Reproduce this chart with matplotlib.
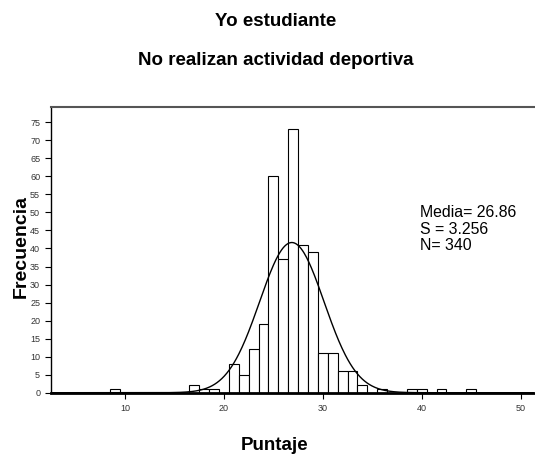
import numpy as np
import matplotlib
matplotlib.use("Agg")
import matplotlib.pyplot as plt

plt.rcParams['font.family'] = ['Liberation Sans', 'DejaVu Sans']

# Puntaje values (bin centres) and their frequencies
puntaje = [9, 17, 18, 19, 21, 22, 23, 24, 25, 26, 27, 28, 29, 30, 31, 32, 33, 34, 36, 39, 40, 42, 45]
frecuencia = [1, 2, 1, 1, 8, 5, 12, 19, 60, 37, 73, 41, 39, 11, 11, 6, 6, 2, 1, 1, 1, 1, 1]

media = 26.86
s = 3.256
n = 340

x_ticks = [10, 20, 30, 40, 50]
y_ticks = list(range(0, 80, 5))

fig = plt.figure(figsize=(5.35, 4.54), dpi=100)
ax = fig.add_axes([0.0953, 0.135, 0.9027, 0.629])

ax.bar(puntaje, frecuencia, width=1.0, color='white', edgecolor='black', linewidth=0.8, zorder=2)

# normal curve scaled to counts (bin width 1)
xs = np.linspace(2.5, 51.35, 600)
curve = n / (s * np.sqrt(2 * np.pi)) * np.exp(-0.5 * ((xs - media) / s) ** 2)
ax.plot(xs, curve, color='black', linewidth=1.0, zorder=3)

ax.set_xlim(2.5, 51.35)
ax.set_ylim(0, 79.2)
ax.set_xticks(x_ticks)
ax.set_yticks(y_ticks)
ax.tick_params(axis='both', labelsize=6.5, labelcolor='#333333', length=4.3, width=0.8, direction='out')

ax.spines['right'].set_visible(False)
ax.spines['top'].set_color('#555555')
ax.spines['top'].set_linewidth(1.5)
ax.spines['left'].set_linewidth(1.0)
ax.spines['bottom'].set_linewidth(2.0)

ax.text(39.8, 52.0, "Media= 26.86\nS = 3.256\nN= 340", fontsize=11.4, va='top', ha='left',
        linespacing=1.12)

fig.text(0.516, 1 - 21 / 454, "Yo estudiante", fontsize=13.5, fontweight='bold', ha='center', va='center')
fig.text(0.516, 1 - 65 / 454, "No realizan actividad deportiva", fontsize=13.5, fontweight='bold',
         ha='center', va='baseline')
fig.text(0.514, 1 - 450 / 454, "Puntaje", fontsize=13.5, fontweight='bold', ha='center', va='baseline')
fig.text(21 / 535, 1 - 247 / 454, "Frecuencia", fontsize=14, fontweight='bold', rotation=90,
         ha='center', va='center')

fig.savefig("out.png", dpi=100)
